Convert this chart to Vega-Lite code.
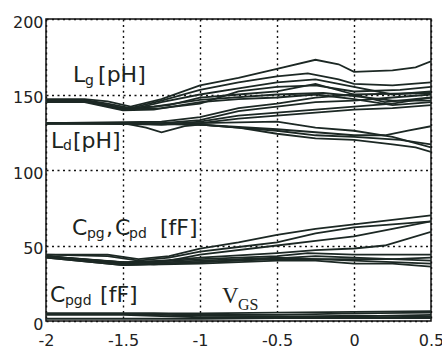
{
  "$schema": "https://vega.github.io/schema/vega-lite/v6.json",
  "width": 385,
  "height": 302,
  "autosize": {"type": "none"},
  "padding": {"left": 46, "top": 19, "right": 11, "bottom": 26},
  "background": "white",
  "config": {
    "view": {"stroke": "#111", "strokeWidth": 1.5},
    "axis": {
      "domain": false,
      "ticks": false,
      "grid": true,
      "gridColor": "#111",
      "gridDash": [2, 3.5],
      "gridWidth": 1.4,
      "gridOpacity": 1,
      "labelFont": "DejaVu Sans",
      "labelFontSize": 16,
      "labelColor": "#222",
      "title": null
    }
  },
  "datasets": {
    "curves": [
      {"s":"g1","x":-2,"y":147},{"s":"g1","x":-1.75,"y":147},{"s":"g1","x":-1.6,"y":145.5},{"s":"g1","x":-1.45,"y":142},{"s":"g1","x":-1.25,"y":147},{"s":"g1","x":-1,"y":156},{"s":"g1","x":-0.75,"y":161},{"s":"g1","x":-0.5,"y":167},{"s":"g1","x":-0.25,"y":173},{"s":"g1","x":-0.1,"y":170},{"s":"g1","x":0,"y":165},{"s":"g1","x":0.25,"y":166},{"s":"g1","x":0.4,"y":168},{"s":"g1","x":0.5,"y":172},
      {"s":"g2","x":-2,"y":146.5},{"s":"g2","x":-1.75,"y":146.5},{"s":"g2","x":-1.6,"y":144},{"s":"g2","x":-1.45,"y":141},{"s":"g2","x":-1.25,"y":146},{"s":"g2","x":-1,"y":153},{"s":"g2","x":-0.75,"y":158},{"s":"g2","x":-0.5,"y":162},{"s":"g2","x":-0.3,"y":164},{"s":"g2","x":-0.1,"y":160},{"s":"g2","x":0,"y":157},{"s":"g2","x":0.25,"y":156},{"s":"g2","x":0.5,"y":158},
      {"s":"g3","x":-2,"y":146},{"s":"g3","x":-1.75,"y":146},{"s":"g3","x":-1.55,"y":142},{"s":"g3","x":-1.45,"y":140},{"s":"g3","x":-1.25,"y":145},{"s":"g3","x":-1,"y":150},{"s":"g3","x":-0.75,"y":154},{"s":"g3","x":-0.5,"y":158},{"s":"g3","x":-0.25,"y":160},{"s":"g3","x":0,"y":155},{"s":"g3","x":0.25,"y":150},{"s":"g3","x":0.5,"y":152},
      {"s":"g4","x":-2,"y":145.5},{"s":"g4","x":-1.75,"y":145.5},{"s":"g4","x":-1.5,"y":140},{"s":"g4","x":-1.2,"y":143},{"s":"g4","x":-1,"y":148},{"s":"g4","x":-0.75,"y":150},{"s":"g4","x":-0.5,"y":152},{"s":"g4","x":-0.25,"y":157},{"s":"g4","x":0,"y":150},{"s":"g4","x":0.2,"y":145},{"s":"g4","x":0.5,"y":148},
      {"s":"g5","x":-2,"y":145},{"s":"g5","x":-1.75,"y":145},{"s":"g5","x":-1.5,"y":139.5},{"s":"g5","x":-1.3,"y":140},{"s":"g5","x":-1,"y":145},{"s":"g5","x":-0.75,"y":147},{"s":"g5","x":-0.5,"y":148},{"s":"g5","x":-0.25,"y":150},{"s":"g5","x":0,"y":147},{"s":"g5","x":0.25,"y":143},{"s":"g5","x":0.5,"y":145},
      {"s":"g6","x":-2,"y":146},{"s":"g6","x":-1.75,"y":146},{"s":"g6","x":-1.5,"y":141},{"s":"g6","x":-1.3,"y":142},{"s":"g6","x":-1,"y":146.5},{"s":"g6","x":-0.5,"y":150},{"s":"g6","x":-0.2,"y":151},{"s":"g6","x":0,"y":149},{"s":"g6","x":0.25,"y":146},{"s":"g6","x":0.5,"y":146},
      {"s":"g7","x":-2,"y":145},{"s":"g7","x":-1.7,"y":145},{"s":"g7","x":-1.5,"y":140},{"s":"g7","x":-1.25,"y":141},{"s":"g7","x":-1,"y":144},{"s":"g7","x":-0.75,"y":152},{"s":"g7","x":-0.5,"y":155},{"s":"g7","x":-0.25,"y":156},{"s":"g7","x":0,"y":152},{"s":"g7","x":0.3,"y":153},{"s":"g7","x":0.5,"y":155},
      {"s":"d1","x":-2,"y":131},{"s":"d1","x":-1.5,"y":131},{"s":"d1","x":-1,"y":130},{"s":"d1","x":-0.75,"y":128},{"s":"d1","x":-0.5,"y":124},{"s":"d1","x":-0.25,"y":121},{"s":"d1","x":0,"y":120},{"s":"d1","x":0.25,"y":117},{"s":"d1","x":0.4,"y":115},{"s":"d1","x":0.5,"y":112},
      {"s":"d2","x":-2,"y":131},{"s":"d2","x":-1.5,"y":131},{"s":"d2","x":-1.35,"y":128},{"s":"d2","x":-1.25,"y":125},{"s":"d2","x":-1.1,"y":129},{"s":"d2","x":-1,"y":130},{"s":"d2","x":-0.5,"y":126},{"s":"d2","x":-0.25,"y":123},{"s":"d2","x":0,"y":122},{"s":"d2","x":0.3,"y":120},{"s":"d2","x":0.5,"y":117},
      {"s":"d3","x":-2,"y":130.5},{"s":"d3","x":-1.5,"y":131},{"s":"d3","x":-1.25,"y":130},{"s":"d3","x":-1,"y":131},{"s":"d3","x":-0.5,"y":132},{"s":"d3","x":-0.25,"y":128},{"s":"d3","x":0,"y":126},{"s":"d3","x":0.25,"y":122},{"s":"d3","x":0.5,"y":115},
      {"s":"d4","x":-2,"y":131},{"s":"d4","x":-1.25,"y":130},{"s":"d4","x":-1,"y":132},{"s":"d4","x":-0.75,"y":136},{"s":"d4","x":-0.5,"y":138},{"s":"d4","x":-0.25,"y":140},{"s":"d4","x":0,"y":142},{"s":"d4","x":0.25,"y":144},{"s":"d4","x":0.5,"y":148},
      {"s":"d5","x":-2,"y":131},{"s":"d5","x":-1.25,"y":131},{"s":"d5","x":-1,"y":133},{"s":"d5","x":-0.75,"y":139},{"s":"d5","x":-0.5,"y":142},{"s":"d5","x":-0.25,"y":145},{"s":"d5","x":0,"y":146},{"s":"d5","x":0.25,"y":148},{"s":"d5","x":0.5,"y":150},
      {"s":"d6","x":-2,"y":131},{"s":"d6","x":-1.25,"y":132},{"s":"d6","x":-1,"y":135},{"s":"d6","x":-0.75,"y":141},{"s":"d6","x":-0.5,"y":144},{"s":"d6","x":-0.25,"y":148},{"s":"d6","x":0,"y":150},{"s":"d6","x":0.5,"y":151},
      {"s":"d7","x":-2,"y":130.5},{"s":"d7","x":-1.5,"y":130.5},{"s":"d7","x":-1,"y":130},{"s":"d7","x":-0.5,"y":127},{"s":"d7","x":0,"y":123},{"s":"d7","x":0.2,"y":123},{"s":"d7","x":0.35,"y":126},{"s":"d7","x":0.5,"y":129},
      {"s":"d8","x":-2,"y":131},{"s":"d8","x":-1.2,"y":131},{"s":"d8","x":-1,"y":131},{"s":"d8","x":-0.75,"y":134},{"s":"d8","x":-0.5,"y":136},{"s":"d8","x":-0.25,"y":138},{"s":"d8","x":0,"y":140},{"s":"d8","x":0.25,"y":141},{"s":"d8","x":0.5,"y":143},
      {"s":"c1","x":-2,"y":44},{"s":"c1","x":-1.6,"y":44},{"s":"c1","x":-1.4,"y":41},{"s":"c1","x":-1.2,"y":43},{"s":"c1","x":-1,"y":48},{"s":"c1","x":-0.75,"y":52},{"s":"c1","x":-0.5,"y":57},{"s":"c1","x":-0.25,"y":61},{"s":"c1","x":0,"y":64},{"s":"c1","x":0.25,"y":67},{"s":"c1","x":0.5,"y":70},
      {"s":"c2","x":-2,"y":44},{"s":"c2","x":-1.6,"y":43},{"s":"c2","x":-1.4,"y":40},{"s":"c2","x":-1.2,"y":42},{"s":"c2","x":-1,"y":46},{"s":"c2","x":-0.75,"y":49},{"s":"c2","x":-0.5,"y":52},{"s":"c2","x":-0.25,"y":58},{"s":"c2","x":0,"y":62},{"s":"c2","x":0.25,"y":64},{"s":"c2","x":0.5,"y":66},
      {"s":"c3","x":-2,"y":43},{"s":"c3","x":-1.5,"y":39},{"s":"c3","x":-1.2,"y":40},{"s":"c3","x":-1,"y":44},{"s":"c3","x":-0.5,"y":50},{"s":"c3","x":-0.25,"y":53},{"s":"c3","x":0,"y":56},{"s":"c3","x":0.25,"y":61},{"s":"c3","x":0.5,"y":66},
      {"s":"c4","x":-2,"y":43},{"s":"c4","x":-1.5,"y":38},{"s":"c4","x":-1,"y":42},{"s":"c4","x":-0.5,"y":45},{"s":"c4","x":-0.25,"y":47},{"s":"c4","x":0,"y":48},{"s":"c4","x":0.2,"y":50},{"s":"c4","x":0.5,"y":59},
      {"s":"c5","x":-2,"y":43},{"s":"c5","x":-1.5,"y":38},{"s":"c5","x":-1,"y":41},{"s":"c5","x":-0.5,"y":43},{"s":"c5","x":-0.3,"y":45},{"s":"c5","x":0,"y":44},{"s":"c5","x":0.25,"y":44},{"s":"c5","x":0.5,"y":44},
      {"s":"c6","x":-2,"y":42},{"s":"c6","x":-1.5,"y":37},{"s":"c6","x":-1,"y":39},{"s":"c6","x":-0.5,"y":41},{"s":"c6","x":0,"y":41},{"s":"c6","x":0.25,"y":41},{"s":"c6","x":0.5,"y":42},
      {"s":"c7","x":-2,"y":42},{"s":"c7","x":-1.5,"y":37},{"s":"c7","x":-1,"y":38},{"s":"c7","x":-0.5,"y":40},{"s":"c7","x":-0.25,"y":40},{"s":"c7","x":0,"y":38},{"s":"c7","x":0.25,"y":38},{"s":"c7","x":0.5,"y":36},
      {"s":"c8","x":-2,"y":43},{"s":"c8","x":-1.4,"y":38},{"s":"c8","x":-1,"y":40},{"s":"c8","x":-0.5,"y":42},{"s":"c8","x":0,"y":40},{"s":"c8","x":0.5,"y":38},
      {"s":"c9","x":-2,"y":42.5},{"s":"c9","x":-1.3,"y":37.5},{"s":"c9","x":-1,"y":39},{"s":"c9","x":-0.5,"y":41.5},{"s":"c9","x":-0.25,"y":43},{"s":"c9","x":0,"y":42},{"s":"c9","x":0.5,"y":40},
      {"s":"p1","x":-2,"y":5},{"s":"p1","x":-1.5,"y":5},{"s":"p1","x":-1,"y":5},{"s":"p1","x":-0.5,"y":5.5},{"s":"p1","x":0,"y":6},{"s":"p1","x":0.5,"y":6.5},
      {"s":"p2","x":-2,"y":4.5},{"s":"p2","x":-1.5,"y":4.5},{"s":"p2","x":-1,"y":3.5},{"s":"p2","x":-0.5,"y":3},{"s":"p2","x":0,"y":3},{"s":"p2","x":0.5,"y":4},
      {"s":"p3","x":-2,"y":1.5},{"s":"p3","x":-1.5,"y":1.5},{"s":"p3","x":-1,"y":1.5},{"s":"p3","x":-0.5,"y":2},{"s":"p3","x":0,"y":2},{"s":"p3","x":0.5,"y":2},
      {"s":"p4","x":-2,"y":5},{"s":"p4","x":-1.3,"y":5},{"s":"p4","x":-1,"y":4},{"s":"p4","x":-0.5,"y":4},{"s":"p4","x":0,"y":5},{"s":"p4","x":0.5,"y":5.5},
      {"s":"p5","x":-2,"y":4},{"s":"p5","x":-1.5,"y":4},{"s":"p5","x":-1,"y":2.5},{"s":"p5","x":-0.5,"y":2.5},{"s":"p5","x":0,"y":3.5},{"s":"p5","x":0.5,"y":3}
    ],
    "labels": [
      {"role":"main","t":"L","x":-1.825,"y":158.3},
      {"role":"sub","t":"g","x":-1.747,"y":156.3},
      {"role":"main","t":"[pH]","x":-1.662,"y":158.3},
      {"role":"main","t":"L","x":-1.968,"y":114.6},
      {"role":"sub","t":"d","x":-1.89,"y":113.2},
      {"role":"main","t":"[pH]","x":-1.825,"y":114.6},
      {"role":"main","t":"C","x":-1.831,"y":57},
      {"role":"sub","t":"pg","x":-1.734,"y":55},
      {"role":"main","t":",","x":-1.61,"y":57},
      {"role":"main","t":"C","x":-1.552,"y":57},
      {"role":"sub","t":"pd","x":-1.461,"y":55},
      {"role":"main","t":"[fF]","x":-1.26,"y":57},
      {"role":"main","t":"C","x":-1.974,"y":12.6},
      {"role":"sub","t":"pgd","x":-1.877,"y":10.6},
      {"role":"main","t":"[fF]","x":-1.649,"y":12.6},
      {"role":"vmain","t":"V","x":-0.857,"y":11.9},
      {"role":"vsub","t":"GS","x":-0.753,"y":7.3}
    ]
  },
  "encoding": {
    "x": {"field": "x", "type": "quantitative",
          "scale": {"domain": [-2, 0.5], "nice": false, "zero": false},
          "axis": {"values": [-2, -1.5, -1, -0.5, 0, 0.5], "labelExpr": "'' + datum.value", "labelPadding": 11, "labelFlush": false}},
    "y": {"field": "y", "type": "quantitative",
          "scale": {"domain": [0, 200], "nice": false},
          "axis": {"values": [0, 50, 100, 150, 200], "labelPadding": 3, "labelOffset": 3, "labelFlush": false}}
  },
  "layer": [
    {
      "data": {"name": "curves"},
      "mark": {"type": "line", "color": "#1c2824", "strokeWidth": 1.8, "clip": true},
      "encoding": {
        "detail": {"field": "s", "type": "nominal"}
      }
    },
    {
      "data": {"name": "labels"},
      "transform": [{"filter": "datum.role == 'main'"}],
      "mark": {"type": "text", "font": "DejaVu Sans", "fontSize": 22, "align": "left", "baseline": "alphabetic", "color": "#1c2420"},
      "encoding": {"text": {"field": "t"}}
    },
    {
      "data": {"name": "labels"},
      "transform": [{"filter": "datum.role == 'sub'"}],
      "mark": {"type": "text", "font": "DejaVu Sans", "fontSize": 14, "align": "left", "baseline": "alphabetic", "color": "#1c2420"},
      "encoding": {"text": {"field": "t"}}
    },
    {
      "data": {"name": "labels"},
      "transform": [{"filter": "datum.role == 'vmain'"}],
      "mark": {"type": "text", "font": "Liberation Serif", "fontSize": 23, "align": "left", "baseline": "alphabetic", "color": "#1c2420"},
      "encoding": {"text": {"field": "t"}}
    },
    {
      "data": {"name": "labels"},
      "transform": [{"filter": "datum.role == 'vsub'"}],
      "mark": {"type": "text", "font": "Liberation Serif", "fontSize": 16, "align": "left", "baseline": "alphabetic", "color": "#1c2420"},
      "encoding": {"text": {"field": "t"}}
    }
  ]
}
